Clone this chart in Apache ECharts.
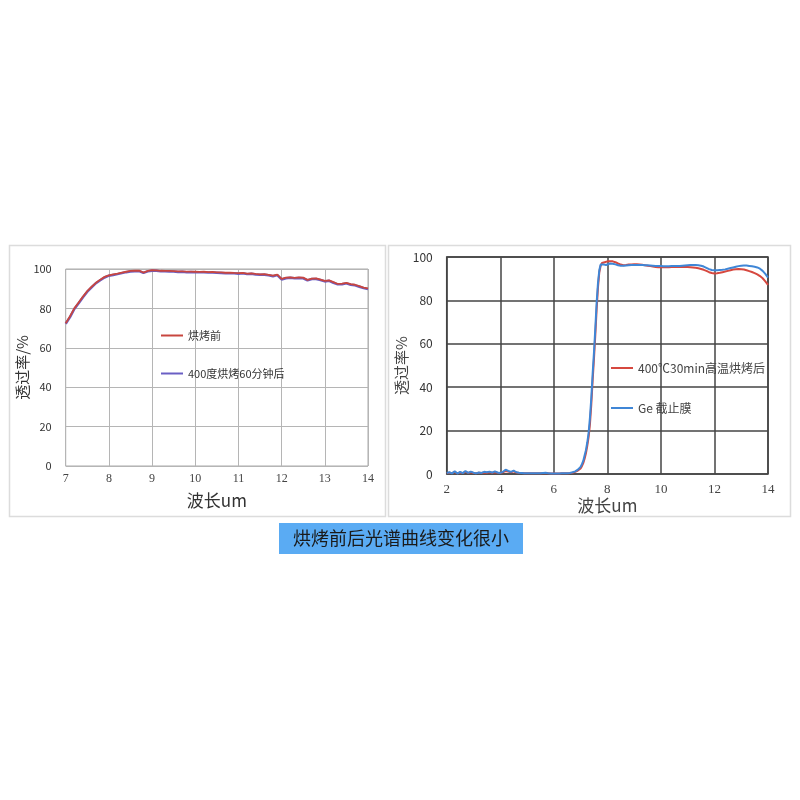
<!DOCTYPE html>
<html>
<head>
<meta charset="utf-8">
<script src="https://cdn.jsdelivr.net/npm/echarts@6/dist/echarts.min.js"></script>
<style>
  html, body { margin: 0; padding: 0; background: #fff; }
  #chart { width: 800px; height: 800px; }
</style>
</head>
<body>
<div id="chart"></div>
<script>
  // 左图：烘烤前 / 400度烘烤60分钟后
  var leftX = [
    7.0, 7.1, 7.2, 7.3, 7.4, 7.5, 7.6, 7.7, 7.8, 7.9,
    8.0, 8.1, 8.2, 8.3, 8.4, 8.5, 8.6, 8.7, 8.8, 8.9,
    9.0, 9.1, 9.2, 9.3, 9.4, 9.5, 9.6, 9.7, 9.8, 9.9,
    10.0, 10.1, 10.2, 10.3, 10.4, 10.5, 10.6, 10.7, 10.8, 10.9,
    11.0, 11.1, 11.2, 11.3, 11.4, 11.5, 11.6, 11.7, 11.8, 11.9,
    12.0, 12.1, 12.2, 12.3, 12.4, 12.5, 12.6, 12.7, 12.8, 12.9,
    13.0, 13.1, 13.2, 13.3, 13.4, 13.5, 13.6, 13.7, 13.8, 13.9,
    14.0
  ]
  var leftBefore = [
    72.5, 76.0, 80.0, 83.0, 86.0, 88.8, 91.0, 93.0, 94.6, 96.0,
    96.8, 97.3, 97.6, 98.2, 98.6, 99.0, 99.1, 99.2, 98.2, 99.0,
    99.4, 99.3, 99.1, 99.0, 99.0, 98.9, 98.8, 98.8, 98.7, 98.7,
    98.6, 98.5, 98.6, 98.4, 98.5, 98.3, 98.3, 98.1, 98.2, 98.0,
    97.9, 98.0, 97.7, 97.8, 97.5, 97.3, 97.4, 97.0, 96.6, 97.2,
    95.0, 95.6, 95.8, 95.5, 95.7, 95.6, 94.5, 95.1, 95.2, 94.6,
    94.0, 94.2, 93.3, 92.4, 92.6, 93.0, 92.3, 92.0, 91.3, 90.6,
    90.2
  ]
  var leftAfter = [
    72.2, 75.6, 79.7, 82.6, 85.7, 88.5, 90.7, 92.8, 94.3, 95.7,
    96.6, 97.0, 97.4, 97.9, 98.4, 98.7, 98.9, 98.9, 98.0, 98.8,
    99.1, 99.1, 98.8, 98.8, 98.7, 98.7, 98.5, 98.6, 98.4, 98.5,
    98.3, 98.3, 98.3, 98.2, 98.2, 98.1, 98.0, 97.9, 97.9, 97.8,
    97.6, 97.8, 97.4, 97.6, 97.2, 97.1, 97.1, 96.8, 96.3, 96.9,
    94.7, 95.3, 95.5, 95.3, 95.4, 95.3, 94.2, 94.9, 94.9, 94.4,
    93.7, 94.0, 93.0, 92.2, 92.3, 92.7, 92.0, 91.7, 91.0, 90.3,
    89.8
  ]

  // 右图：400℃30min高温烘烤后 / Ge 截止膜
  var rightX = [
    2.0, 2.1, 2.2, 2.3, 2.4, 2.5, 2.6, 2.7, 2.8, 2.9,
    3.0, 3.1, 3.2, 3.3, 3.4, 3.5, 3.6, 3.7, 3.8, 3.9,
    4.0, 4.1, 4.2, 4.3, 4.4, 4.5, 4.6, 4.7, 4.8, 4.9,
    5.0, 5.1, 5.2, 5.3, 5.4, 5.5, 5.6, 5.7, 5.8, 5.9,
    6.0, 6.1, 6.2, 6.3, 6.4, 6.5, 6.6, 6.7, 6.8, 6.9,
    7.0, 7.05, 7.1, 7.15, 7.2, 7.25, 7.3, 7.35, 7.4, 7.45,
    7.5, 7.55, 7.6, 7.65, 7.7, 7.75, 7.8, 7.85, 7.9, 7.95,
    8.0, 8.1, 8.2, 8.3, 8.4, 8.5, 8.6, 8.7, 8.8, 8.9,
    9.0, 9.1, 9.2, 9.3, 9.4, 9.5, 9.6, 9.7, 9.8, 9.9,
    10.0, 10.1, 10.2, 10.3, 10.4, 10.5, 10.6, 10.7, 10.8, 10.9,
    11.0, 11.1, 11.2, 11.3, 11.4, 11.5, 11.6, 11.7, 11.8, 11.9,
    12.0, 12.1, 12.2, 12.3, 12.4, 12.5, 12.6, 12.7, 12.8, 12.9,
    13.0, 13.1, 13.2, 13.3, 13.4, 13.5, 13.6, 13.7, 13.8, 13.9,
    14.0
  ]
  var rightBaked = [
    0.4, 0.6, 0.4, 0.9, 0.3, 0.7, 0.4, 1.0, 0.5, 0.8,
    0.5, 0.4, 0.6, 0.5, 0.7, 0.6, 0.8, 0.6, 0.8, 0.6,
    0.5, 0.8, 1.4, 1.1, 0.8, 1.2, 0.7, 0.5, 0.5, 0.4,
    0.4, 0.3, 0.3, 0.4, 0.3, 0.3, 0.4, 0.5, 0.3, 0.2,
    0.2, 0.2, 0.2, 0.3, 0.3, 0.3, 0.4, 0.6, 1.0, 1.6,
    2.6, 3.6, 5.0, 7.0, 9.5, 13.0, 17.0, 23.0, 32.0, 43.0,
    53.0, 64.0, 76.0, 86.0, 93.0, 96.0, 97.2, 97.5, 97.6, 97.8,
    98.0, 98.1, 98.0, 97.6, 97.0, 96.5, 96.2, 96.3, 96.5, 96.6,
    96.7, 96.7, 96.6, 96.4, 96.2, 96.0, 95.8, 95.6, 95.4, 95.3,
    95.3, 95.3, 95.3, 95.3, 95.4, 95.4, 95.4, 95.4, 95.4, 95.4,
    95.4, 95.3, 95.2, 95.0, 94.8, 94.5, 94.1, 93.6, 93.0, 92.6,
    92.4, 92.5, 92.7, 93.0, 93.3, 93.6, 93.9, 94.2, 94.4, 94.5,
    94.4, 94.2, 93.9, 93.5, 93.1, 92.6, 92.0, 91.2, 90.2, 88.8,
    87.2
  ]
  var rightGe = [
    0.5, 0.8, 0.3, 1.3, 0.2, 1.0, 0.4, 1.4, 0.5, 1.1,
    0.6, 0.3, 0.7, 0.5, 1.0, 0.8, 1.1, 0.6, 1.2, 0.7,
    0.5, 1.0, 2.0, 1.4, 1.0, 1.6, 0.8, 0.6, 0.5, 0.4,
    0.4, 0.3, 0.3, 0.4, 0.3, 0.3, 0.5, 0.6, 0.3, 0.2,
    0.2, 0.2, 0.2, 0.3, 0.3, 0.4, 0.5, 0.8, 1.2, 2.0,
    3.3, 4.5, 6.0, 8.5, 11.0, 14.5, 19.0, 26.0, 35.0, 46.0,
    56.0, 67.0, 79.0, 88.0, 94.0, 96.5, 97.0, 96.6, 96.0, 96.3,
    96.8, 97.0, 96.9, 96.6, 96.2, 96.0, 96.0, 96.1, 96.2, 96.3,
    96.3, 96.3, 96.3, 96.3, 96.2, 96.2, 96.1, 96.0, 95.9, 95.8,
    95.8, 95.7, 95.7, 95.7, 95.8, 95.8, 95.9, 95.9, 96.0, 96.1,
    96.2, 96.3, 96.3, 96.3, 96.2, 96.0, 95.6, 95.0, 94.4, 94.0,
    93.9, 93.9, 94.0, 94.1, 94.3, 94.6, 94.9, 95.2, 95.5, 95.8,
    96.0, 96.1, 96.1, 95.9, 95.7, 95.5, 95.2, 94.6, 93.6, 92.2,
    90.5
  ]

  var leftYTicks = [0, 20, 40, 60, 80, 100]
  var rightXTicks = [2, 4, 6, 8, 10, 12, 14]

  function pairs(xs, ys) {
    return xs.map(function (x, i) { return [x, ys[i]] })
  }

  var chart = echarts.init(document.getElementById('chart'))
  chart.setOption({
    animation: false,
    backgroundColor: '#fff',
    textStyle: { fontFamily: '"Noto Sans CJK SC", "Noto Sans", sans-serif' },
    graphic: [
      // 两个图框
      {
        type: 'rect', z: -10,
        shape: { x: 9.5, y: 245.5, width: 376, height: 271 },
        style: { fill: 'none', stroke: '#dcdcdc', lineWidth: 1.5 }
      },
      {
        type: 'rect', z: -10,
        shape: { x: 388.5, y: 245.5, width: 402, height: 271 },
        style: { fill: 'none', stroke: '#dcdcdc', lineWidth: 1.5 }
      },
      // 底部说明
      {
        type: 'rect',
        shape: { x: 279, y: 523, width: 244, height: 31 },
        style: { fill: '#5aabf3' }
      },
      {
        type: 'text',
        x: 401, y: 538.5,
        style: {
          text: '烘烤前后光谱曲线变化很小',
          fill: '#1a1a1a',
          font: '18px "Noto Sans CJK SC", sans-serif',
          align: 'center',
          verticalAlign: 'middle'
        }
      }
    ],
    legend: [
      {
        data: ['烘烤前', '400度烘烤60分钟后'],
        orient: 'vertical',
        left: 156,
        top: 325,
        itemWidth: 22,
        itemHeight: 2,
        itemGap: 27,
        icon: 'rect',
        textStyle: { fontSize: 11, color: '#333' }
      },
      {
        data: ['400℃30min高温烘烤后', 'Ge 截止膜'],
        orient: 'vertical',
        left: 606,
        top: 357,
        itemWidth: 22,
        itemHeight: 2,
        itemGap: 28,
        icon: 'rect',
        textStyle: { fontSize: 12, color: '#444' }
      }
    ],
    grid: [
      {
        left: 65.7, top: 269, width: 302.3, height: 197,
        show: true, borderColor: '#aaa', borderWidth: 1
      },
      {
        left: 446.7, top: 257, width: 321.3, height: 217,
        show: true, borderColor: '#444', borderWidth: 1.5
      }
    ],
    xAxis: [
      {
        gridIndex: 0,
        type: 'value',
        min: 7, max: 14, interval: 1,
        name: '波长um',
        nameLocation: 'middle',
        nameGap: 26,
        nameTextStyle: { fontSize: 17, color: '#333' },
        axisLine: { show: false },
        axisTick: { show: false },
        axisLabel: { margin: 7, fontSize: 12, color: '#444', fontFamily: '"Liberation Serif", serif' },
        splitLine: { show: true, lineStyle: { color: '#b5b5b5', width: 1 } }
      },
      {
        gridIndex: 1,
        type: 'value',
        min: 2, max: 14, interval: 2,
        name: '波长um',
        nameLocation: 'middle',
        nameGap: 22,
        nameTextStyle: { fontSize: 17, color: '#444' },
        axisLine: { show: false },
        axisTick: { show: false },
        axisLabel: { margin: 9, fontSize: 13, color: '#444', fontFamily: '"Liberation Serif", serif' },
        splitLine: { show: true, lineStyle: { color: '#444', width: 1.5 } }
      }
    ],
    yAxis: [
      {
        gridIndex: 0,
        type: 'value',
        min: leftYTicks[0], max: leftYTicks[leftYTicks.length - 1], interval: 20,
        name: '透过率/%',
        nameLocation: 'middle',
        nameGap: 36,
        nameTextStyle: { fontSize: 15, color: '#333' },
        axisLine: { show: false },
        axisTick: { show: false },
        axisLabel: { margin: 14, fontSize: 11, color: '#333' },
        splitLine: { show: true, lineStyle: { color: '#b5b5b5', width: 1 } }
      },
      {
        gridIndex: 1,
        type: 'value',
        min: 0, max: 100, interval: 20,
        name: '透过率%',
        nameLocation: 'middle',
        nameGap: 38,
        nameTextStyle: { fontSize: 15, color: '#444' },
        axisLine: { show: false },
        axisTick: { show: false },
        axisLabel: { margin: 14, fontSize: 12, color: '#333' },
        splitLine: { show: true, lineStyle: { color: '#444', width: 1.5 } }
      }
    ],
    series: [
      {
        name: '400度烘烤60分钟后',
        type: 'line',
        xAxisIndex: 0, yAxisIndex: 0,
        data: pairs(leftX, leftAfter),
        showSymbol: false,
        lineStyle: { color: '#6a5fc4', width: 2.5 },
        itemStyle: { color: '#6a5fc4' }
      },
      {
        name: '烘烤前',
        type: 'line',
        xAxisIndex: 0, yAxisIndex: 0,
        data: pairs(leftX, leftBefore),
        showSymbol: false,
        lineStyle: { color: '#c8463f', width: 1.8 },
        itemStyle: { color: '#c8463f' }
      },
      {
        name: '400℃30min高温烘烤后',
        type: 'line',
        xAxisIndex: 1, yAxisIndex: 1,
        data: pairs(rightX, rightBaked),
        showSymbol: false,
        lineStyle: { color: '#d6483f', width: 2 },
        itemStyle: { color: '#d6483f' }
      },
      {
        name: 'Ge 截止膜',
        type: 'line',
        xAxisIndex: 1, yAxisIndex: 1,
        data: pairs(rightX, rightGe),
        showSymbol: false,
        lineStyle: { color: '#3f86d6', width: 2 },
        itemStyle: { color: '#3f86d6' }
      }
    ]
  })
</script>
</body>
</html>
